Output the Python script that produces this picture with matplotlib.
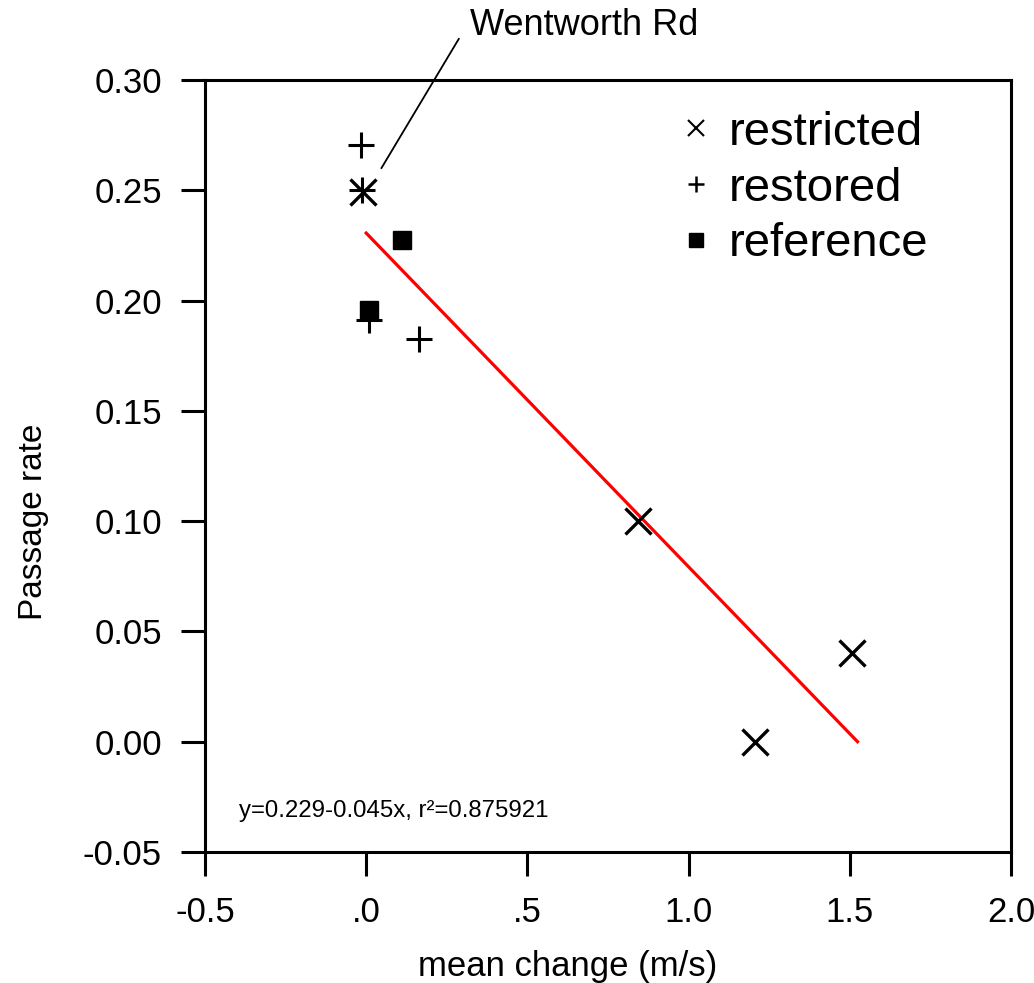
import matplotlib
matplotlib.use("Agg")
import matplotlib.pyplot as plt
from matplotlib.lines import Line2D

plt.rcParams['font.family'] = ['Liberation Sans', 'DejaVu Sans']

# ---- data ----
restricted_x = [-0.01, 0.844, 1.207, 1.507]
restricted_y = [0.249, 0.100, 0.000, 0.040]

restored_x = [-0.015, -0.012, 0.010, 0.165]
restored_y = [0.2705, 0.250, 0.191, 0.1826]

reference_x = [0.112, 0.010]
reference_y = [0.2275, 0.1957]

fit_x = [0.0, 1.524]
fit_y = [0.2306, 0.0]

xticks = [-0.5, 0.0, 0.5, 1.0, 1.5, 2.0]
xtick_labels = ["-0.5", ".0", ".5", "1.0", "1.5", "2.0"]
yticks = [-0.05, 0.0, 0.05, 0.10, 0.15, 0.20, 0.25, 0.30]
ytick_labels = ["-0.05", "0.00", "0.05", "0.10", "0.15", "0.20", "0.25", "0.30"]

label_point = (0.047, 0.260)   # Wentworth Rd
label_text_pos = (0.323, 0.317)

fig = plt.figure(figsize=(10.34, 9.83), dpi=100)
ax = fig.add_axes([205/1034, 1-852/983, 806/1034, 772/983])

ax.plot(fit_x, fit_y, color="red", lw=2.3, zorder=2)
ax.plot(restricted_x, restricted_y, ls="", marker="x", ms=19, mew=2.4, color="black", zorder=3)
ax.plot(restored_x, restored_y, ls="", marker="+", ms=19, mew=2.2, color="black", zorder=3)
ax.plot(reference_x, reference_y, ls="", marker="s", ms=13.5, color="black", zorder=4)

ax.set_xlim(-0.5, 2.0)
ax.set_ylim(-0.05, 0.30)
ax.set_xticks(xticks)
ax.set_xticklabels(xtick_labels)
ax.set_yticks(yticks)
ax.set_yticklabels(ytick_labels)
ax.tick_params(direction="out", length=17, width=2.2, labelsize=25)
ax.tick_params(axis="x", pad=14.5)
ax.tick_params(axis="y", pad=14)
for s in ax.spines.values():
    s.set_linewidth(2.2)

ax.set_xlabel("mean change (m/s)", fontsize=25, va="top")
ax.xaxis.set_label_coords(0.450, -0.127)
ax.set_ylabel("Passage rate", fontsize=24)
ax.yaxis.set_label_coords(-0.1935, 0.4275)

ax.annotate("Wentworth Rd", xy=label_point, xytext=label_text_pos,
            fontsize=26, ha="left", va="bottom", annotation_clip=False,
            arrowprops=dict(arrowstyle="-", color="black", lw=1.3,
                            relpos=(-0.05, 0.11), patchA=None,
                            shrinkA=0, shrinkB=0))

ax.text(0.042, 0.045, "y=0.229-0.045x, r²=0.875921", transform=ax.transAxes,
        fontsize=17.3, ha="left", va="baseline")

handles = [Line2D([], [], ls="", marker="x", ms=11, mew=1.5, color="black"),
           Line2D([], [], ls="", marker="+", ms=12, mew=1.8, color="black"),
           Line2D([], [], ls="", marker="s", ms=10, color="black")]
ax.legend(handles, ["restricted", "restored", "reference"], loc="upper left",
          bbox_to_anchor=(0.594, 0.960), fontsize=34, frameon=False,
          borderpad=0, borderaxespad=0, handlelength=0.5, handletextpad=0.45,
          labelspacing=0.25)

fig.savefig("out.png", dpi=100)
